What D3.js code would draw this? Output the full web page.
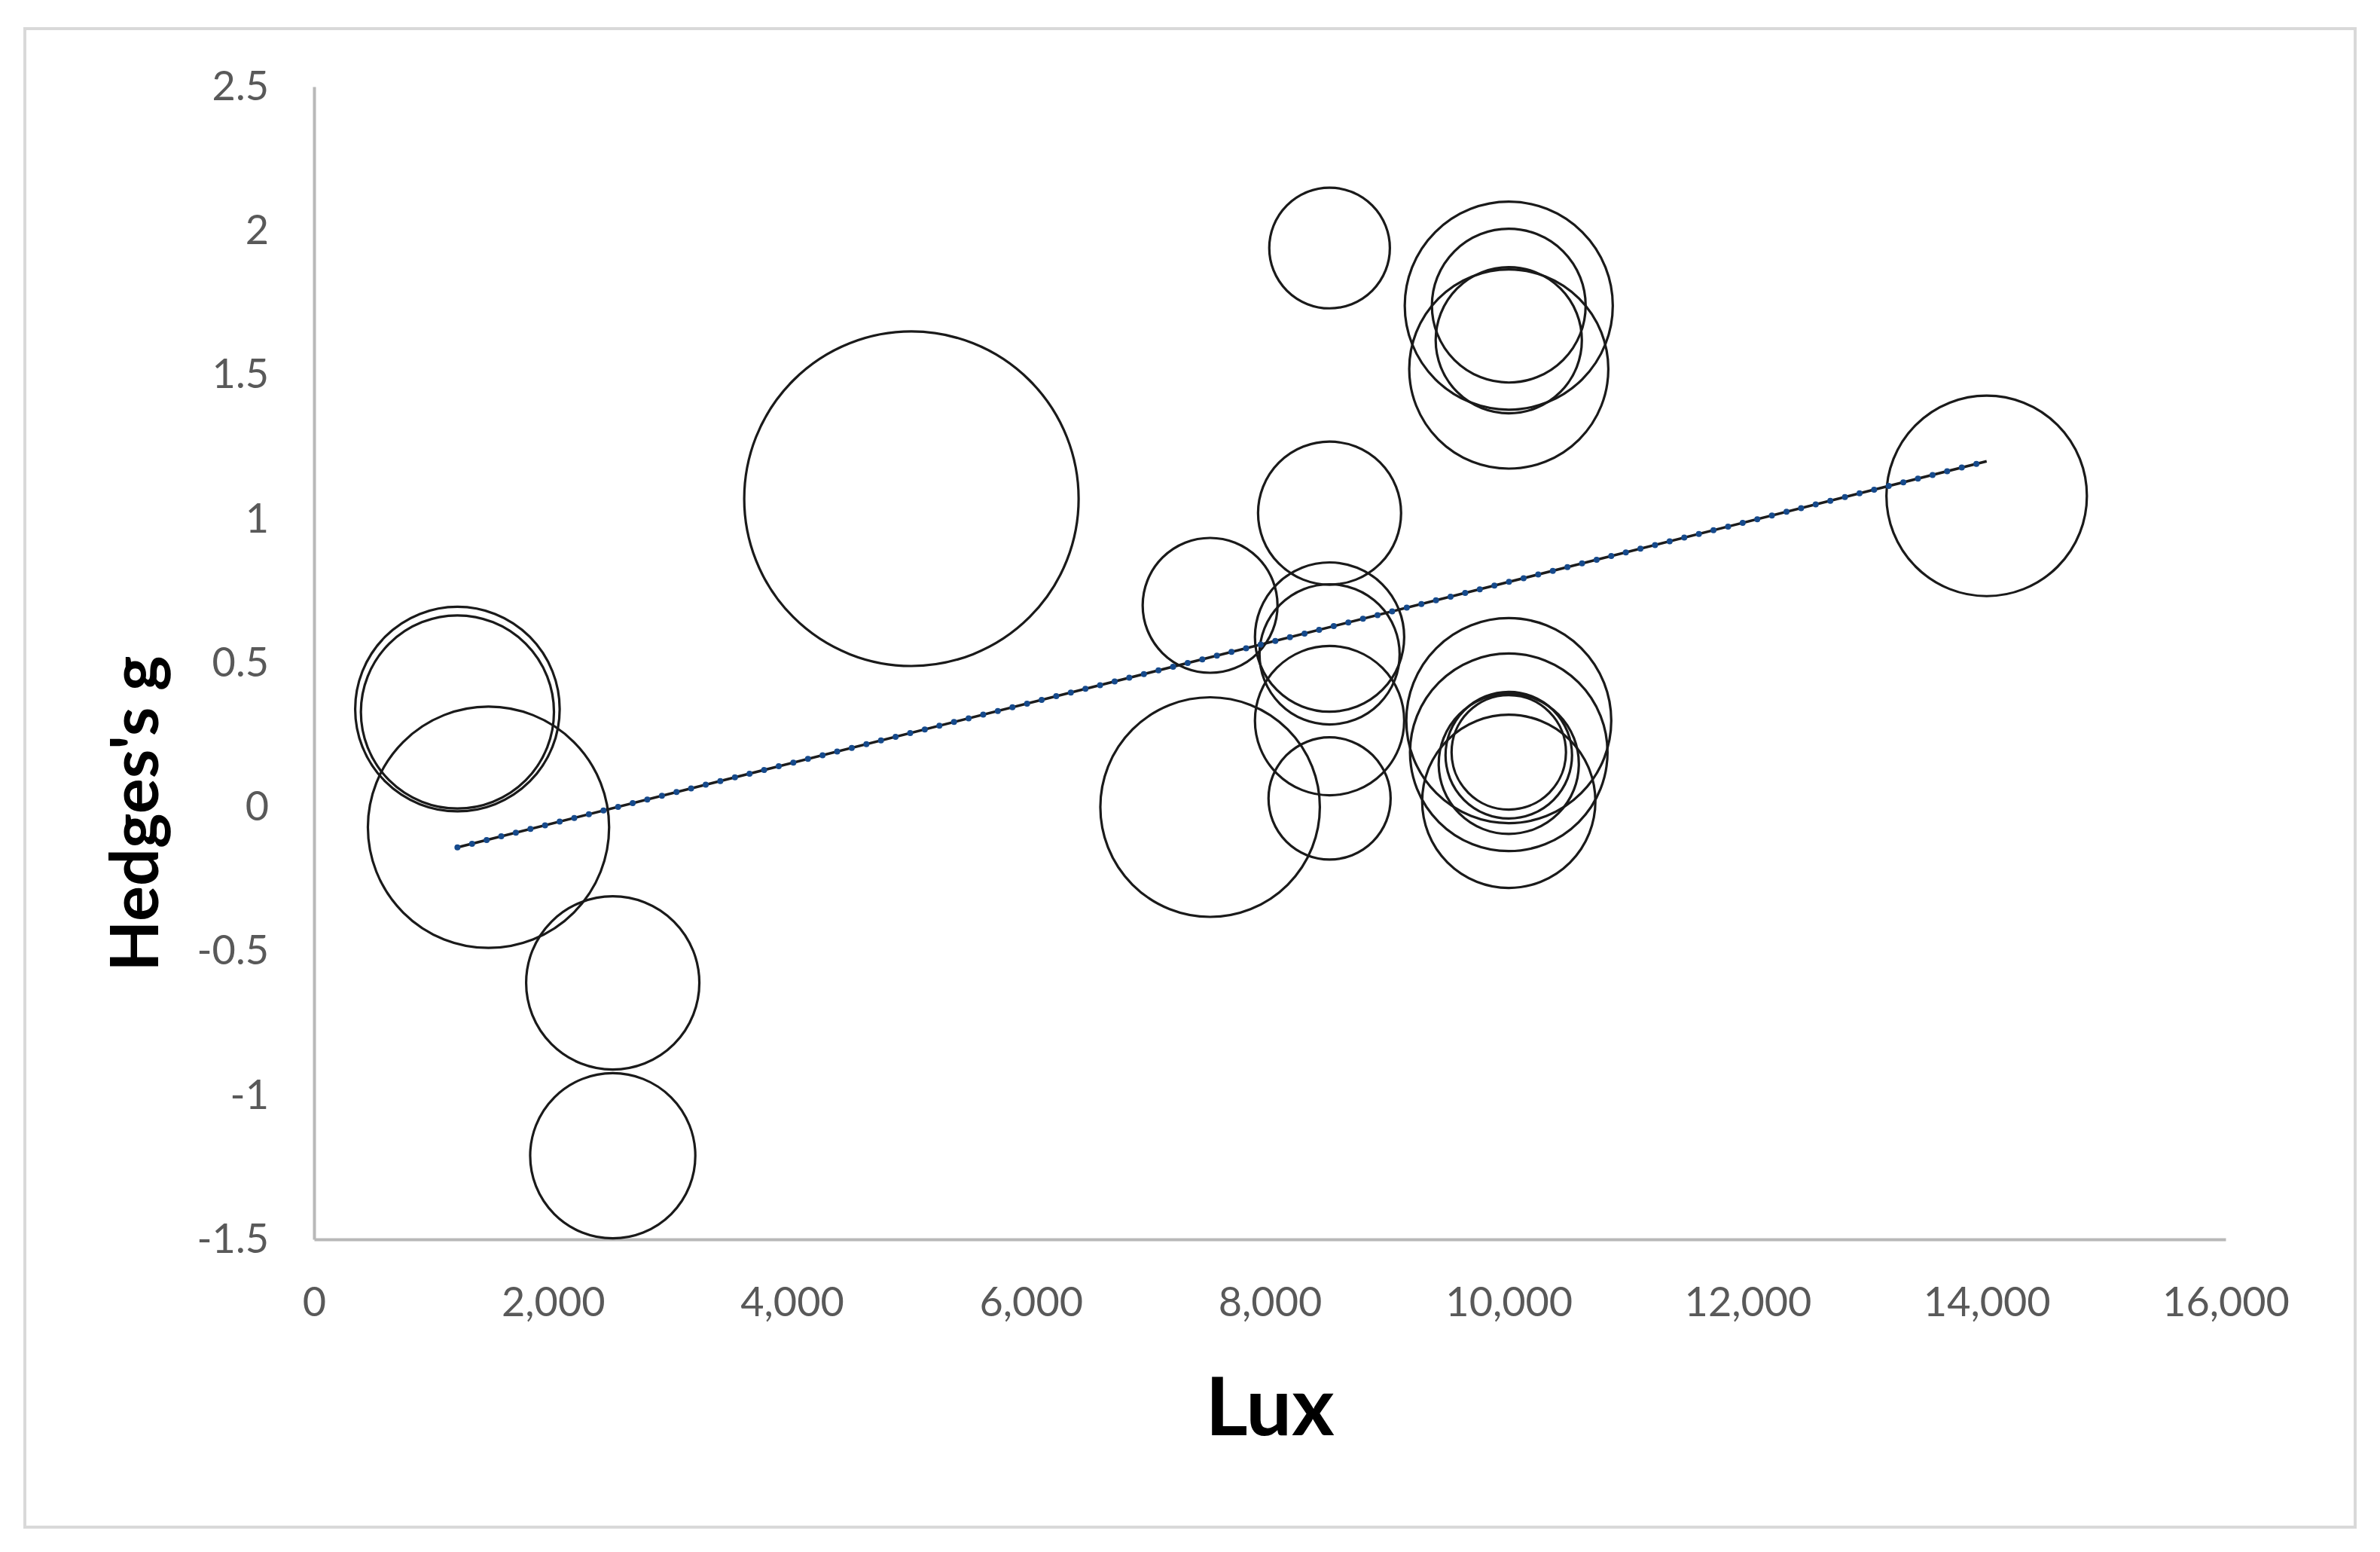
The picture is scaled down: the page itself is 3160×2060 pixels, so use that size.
<!DOCTYPE html>
<html>
<head>
<meta charset="utf-8">
<script src="https://cdn.jsdelivr.net/npm/d3@7"></script>
<style>
    body { margin: 0; background: #ffffff; }
    .tickText { font-family: Lato, "Open Sans", sans-serif; fill: #595959; }
    .axisTitle { font-family: Lato, "Open Sans", sans-serif; font-weight: bold; fill: #000000; }
</style>
</head>
<body>
<div id="chart"></div>
<script>
"use strict";

// bubble data: lux, Hedges's g, bubble size
let luxValues = [1200, 1200, 1460, 2500, 2500, 5000, 7500, 7500, 8500, 8500, 8500, 8500, 8500, 8500,
    10000, 10000, 10000, 10000, 10000, 10000, 10000, 10000, 10000, 10000, 14000]
let hedgesG = [0.34, 0.33, -0.07, -0.61, -1.21, 1.07, 0.70, 0.0, 1.94, 1.02, 0.59, 0.53, 0.30, 0.03,
    1.74, 1.74, 1.62, 1.52, 0.30, 0.19, 0.02, 0.18, 0.19, 0.15, 1.08]
let bubbleSizes = [46, 41, 64, 33, 30, 123, 20, 53, 16, 22.5, 24.5, 21.6, 24.5, 16.4,
    47.6, 26, 23.5, 43.6, 46.2, 42.9, 33, 17.6, 14.4, 21.6, 44.2]

// linear trendline end points
let trendLux = [1200, 14000]
let trendG = [-0.14, 1.2]

// axis ticks
let xTickValues = [0, 2000, 4000, 6000, 8000, 10000, 12000, 14000, 16000]
let yTickValues = [-1.5, -1, -0.5, 0, 0.5, 1, 1.5, 2, 2.5]

let xTitle = "Lux"
let yTitle = "Hedges's g"

//---------------------------------------------------------------

let totalWidth = 3160
let totalHeight = 2060
let margin = { top: 115, right: 205, bottom: 415, left: 417 }
let width = totalWidth - margin.left - margin.right
let height = totalHeight - margin.top - margin.bottom

let svgHolder = d3.select("#chart").append("svg")
    .attr("width", totalWidth)
    .attr("height", totalHeight)

let plot = svgHolder.append("g")
    .attr("transform", "translate(" + margin.left + "," + margin.top + ")")

let x = d3.scaleLinear()
    .domain([0, 16000])
    .range([0, width])
let y = d3.scaleLinear()
    .domain([-1.5, 2.5])
    .range([height, 0])
let r = d3.scaleSqrt()
    .domain([0, d3.max(bubbleSizes)])
    .range([0, 222])

// outer chart border
function addBorder() {
    svgHolder.append("rect")
        .attr("x", 33)
        .attr("y", 38)
        .attr("width", 3094)
        .attr("height", 1989)
        .attr("fill", "none")
        .attr("stroke", "#d9d9d9")
        .attr("stroke-width", 4)
}

// add both axes
function addAxes() {
    let xAxis = plot.append("g")
        .attr("transform", "translate(0," + height + ")")
        .call(d3.axisBottom(x)
            .tickValues(xTickValues)
            .tickFormat(d3.format(","))
            .tickSize(0)
            .tickPadding(64))
    xAxis.select(".domain")
        .attr("stroke", "#b8b8b8")
        .attr("stroke-width", 4)
    xAxis.selectAll("text")
        .attr("class", "tickText")
        .style("font-size", "54px")

    let yAxis = plot.append("g")
        .call(d3.axisLeft(y)
            .tickValues(yTickValues)
            .tickFormat(function (d) { return String(d) })
            .tickSize(0)
            .tickPadding(60))
    yAxis.select(".domain")
        .attr("stroke", "#b8b8b8")
        .attr("stroke-width", 4)
    yAxis.selectAll("text")
        .attr("class", "tickText")
        .style("font-size", "54px")
}

// draw the bubbles (no fill, black outline)
function addBubbles() {
    let data = luxValues.map(function (d, i) {
        return { lux: d, g: hedgesG[i], size: bubbleSizes[i] }
    })
    plot.append("g")
        .selectAll("circle")
        .data(data)
        .enter().append("circle")
        .attr("cx", function (d) { return x(d.lux) })
        .attr("cy", function (d) { return y(d.g) })
        .attr("r", function (d) { return r(d.size) })
        .attr("fill", "none")
        .attr("stroke", "#1a1a1a")
        .attr("stroke-width", 3.2)
}

// trendline: thin black line with round blue dots on it
function addTrendline() {
    let pts = trendLux.map(function (d, i) { return { lux: d, g: trendG[i] } })
    let line = d3.line()
        .x(function (d) { return x(d.lux) })
        .y(function (d) { return y(d.g) })
    plot.append("path")
        .datum(pts)
        .attr("fill", "none")
        .attr("stroke", "#1c1c1c")
        .attr("stroke-width", 3.5)
        .attr("d", line)
    plot.append("path")
        .datum(pts)
        .attr("fill", "none")
        .attr("stroke", "#164a8c")
        .attr("stroke-width", 8)
        .attr("stroke-linecap", "round")
        .attr("stroke-dasharray", "0,20")
        .attr("d", line)
}

// axis titles
function addTitles() {
    svgHolder.append("text")
        .attr("class", "axisTitle")
        .attr("x", margin.left + width / 2)
        .attr("y", 1905)
        .attr("text-anchor", "middle")
        .style("font-size", "108px")
        .text(xTitle)

    svgHolder.append("text")
        .attr("class", "axisTitle")
        .attr("transform", "translate(210," + 1080 + ") rotate(-90)")
        .attr("text-anchor", "middle")
        .style("font-size", "88px")
        .text(yTitle)
}

addBorder()
addAxes()
addBubbles()
addTrendline()
addTitles()
</script>
</body>
</html>
